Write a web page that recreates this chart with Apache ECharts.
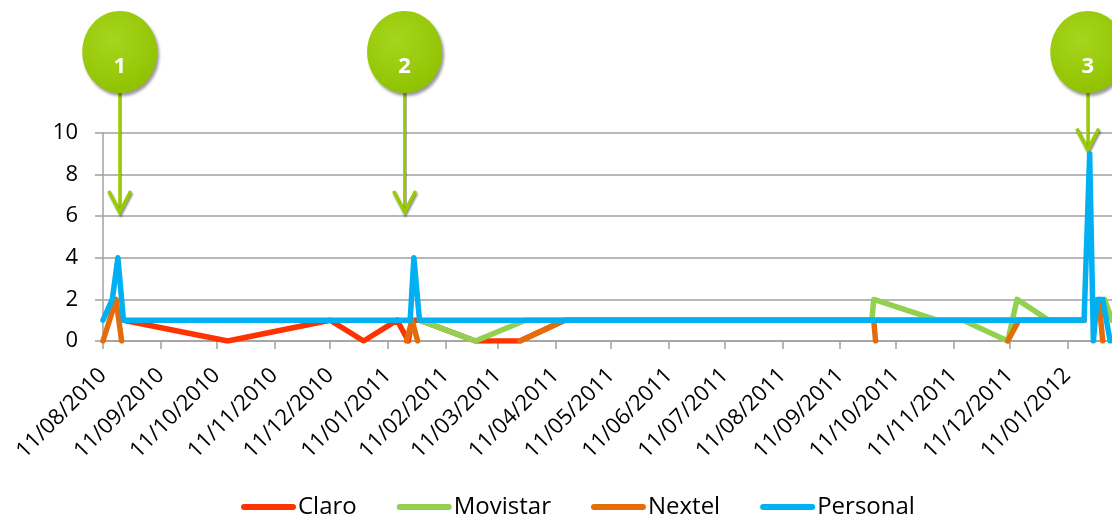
<!DOCTYPE html>
<html>
<head>
<meta charset="utf-8">
<script src="https://cdn.jsdelivr.net/npm/echarts@6/dist/echarts.min.js"></script>
<style>
  html, body { margin: 0; padding: 0; background: #ffffff; }
  #chart { width: 1112px; height: 526px; }
</style>
</head>
<body>
<div id="chart"></div>
<script>
// Axis labels along the date axis (dd/mm/yyyy), one per month
const xTickLabels = [
  '11/08/2010', '11/09/2010', '11/10/2010', '11/11/2010', '11/12/2010',
  '11/01/2011', '11/02/2011', '11/03/2011', '11/04/2011', '11/05/2011',
  '11/06/2011', '11/07/2011', '11/08/2011', '11/09/2011', '11/10/2011',
  '11/11/2011', '11/12/2011', '11/01/2012'
];
const xStart = '2010-08-11';
const xEnd = '2012-02-04';
const yTicks = [0, 2, 4, 6, 8, 10];

// Series readings: [date, value]; null breaks the line
const claro = [
  ['2010-08-22', 1], ['2010-10-17', 0], ['2010-12-11', 1], ['2010-12-29', 0],
  ['2011-01-16', 1], ['2011-01-22', 0], ['2011-01-24', 1], ['2011-01-28', 1],
  ['2011-02-27', 0], ['2011-03-23', 0], ['2011-04-16', 1], ['2012-01-20', 1]
];
const movistar = [
  ['2011-01-28', 1], ['2011-02-27', 0], ['2011-03-26', 1], ['2011-09-28', 1],
  ['2011-09-29', 2], ['2011-11-02', 1], ['2011-11-16', 1], ['2011-12-10', 0],
  ['2011-12-15', 2], ['2012-01-01', 1], ['2012-01-20', 1], ['2012-01-25', null],
  ['2012-01-31', 2], ['2012-02-04', 1]
];
const nextel = [
  ['2010-08-11', 0], ['2010-08-18', 2], ['2010-08-21', 0], ['2010-08-25', null],
  ['2011-01-21', 0], ['2011-01-24', 1], ['2011-01-27', 0], ['2011-02-10', null],
  ['2011-03-23', 0], ['2011-04-16', 1], ['2011-09-29', 1], ['2011-09-30', 0],
  ['2011-10-15', null], ['2011-12-10', 0], ['2011-12-16', 1], ['2012-01-20', 1],
  ['2012-01-24', null], ['2012-01-28', 2], ['2012-01-30', 0]
];
const personal = [
  ['2010-08-11', 1], ['2010-08-16', 2], ['2010-08-19', 4], ['2010-08-22', 1],
  ['2011-01-23', 1], ['2011-01-25', 4], ['2011-01-28', 1], ['2012-01-20', 1],
  ['2012-01-23', 9], ['2012-01-25', 0], ['2012-01-27', 2], ['2012-01-30', 2],
  ['2012-02-03', 0]
];

// Numbered callouts: label, date the arrow points at, value at the arrow tip
const calloutLabels = ['1', '2', '3'];
const calloutDates = ['2010-08-20', '2011-01-20', '2012-01-22'];
const calloutTips = [6.2, 6.2, 9.2];

const FONT = '"Open Sans", "Noto Sans", sans-serif';
const DAY = 86400000;
const ORIGIN = Date.UTC(2010, 7, 11);

function dayOf(iso) {
  const p = iso.split('-').map(Number);
  return (Date.UTC(p[0], p[1] - 1, p[2]) - ORIGIN) / DAY;
}
function dayOfLabel(lbl) {
  const p = lbl.split('/').map(Number);
  return (Date.UTC(p[2], p[1] - 1, p[0]) - ORIGIN) / DAY;
}
function toPoints(rows) {
  return rows.map(r => [dayOf(r[0]), r[1] === null ? '-' : r[1]]);
}

const tickDays = xTickLabels.map(dayOfLabel);
const labelByDay = {};
xTickLabels.forEach((l, i) => { labelByDay[tickDays[i]] = l; });

const seriesDefs = [
  { name: 'Claro', color: '#FF3300', rows: claro },
  { name: 'Movistar', color: '#92D050', rows: movistar },
  { name: 'Nextel', color: '#E46C0A', rows: nextel },
  { name: 'Personal', color: '#00B0F0', rows: personal }
];

const pill = 'path://M3,0 L52,0 A3,3 0 0 1 52,6 L3,6 A3,3 0 0 1 3,0 Z';

const chart = echarts.init(document.getElementById('chart'), null, { renderer: 'canvas' });

chart.setOption({
  backgroundColor: '#ffffff',
  animation: false,
  grid: { left: 103, right: 0, top: 133, bottom: 185, containLabel: false },
  legend: {
    left: 236,
    bottom: 2,
    itemWidth: 55,
    itemHeight: 6,
    itemGap: 40,
    icon: pill,
    textStyle: { fontFamily: FONT, fontSize: 24, color: '#000', padding: [0, 0, 0, -3] },
    data: seriesDefs.map(s => ({ name: s.name, icon: pill }))
  },
  xAxis: {
    type: 'value',
    min: dayOf(xStart),
    max: dayOf(xEnd),
    axisLine: { show: true, lineStyle: { color: '#a0a0a0', width: 1.5 } },
    axisTick: { show: true, customValues: tickDays, length: 8, lineStyle: { color: '#a0a0a0', width: 1.5 } },
    axisLabel: {
      customValues: tickDays,
      rotate: 45,
      margin: 31,
      fontFamily: FONT,
      fontSize: 22,
      color: '#000',
      formatter: v => labelByDay[v] || ''
    },
    splitLine: { show: false }
  },
  yAxis: {
    type: 'value',
    min: yTicks[0],
    max: yTicks[yTicks.length - 1],
    interval: 2,
    axisLine: { show: true, lineStyle: { color: '#a0a0a0', width: 1.5 } },
    axisTick: { show: true, length: 8, lineStyle: { color: '#a0a0a0', width: 1.5 } },
    axisLabel: { margin: 25, fontFamily: FONT, fontSize: 22, color: '#000' },
    splitLine: { show: true, lineStyle: { color: '#a0a0a0', width: 1.5 } }
  },
  series: seriesDefs.map(s => ({
    name: s.name,
    type: 'line',
    data: toPoints(s.rows),
    showSymbol: false,
    symbol: 'none',
    connectNulls: false,
    color: s.color,
    lineStyle: { color: s.color, width: 5.5, cap: 'round', join: 'round' }
  }))
});

// Callout bubbles with arrows, anchored to the axes
function drawCallouts() {
  const green = '#99CC00';
  const cy = 52, rx = 37.5, ry = 41;
  const elements = [];
  calloutLabels.forEach((lbl, i) => {
    const tip = chart.convertToPixel({ gridIndex: 0 }, [dayOf(calloutDates[i]), calloutTips[i]]);
    const x = tip[0], ty = tip[1];
    elements.push({
      type: 'group',
      children: [
        {
          type: 'line',
          shape: { x1: x, y1: cy + ry - 2, x2: x, y2: ty - 2 },
          style: { stroke: green, lineWidth: 3, shadowColor: 'rgba(0,0,0,0.3)', shadowOffsetX: 1, shadowOffsetY: 1, shadowBlur: 1 }
        },
        {
          type: 'polyline',
          shape: { points: [[x - 11, ty - 21], [x, ty], [x + 11, ty - 21]] },
          style: { stroke: green, lineWidth: 3.5, fill: null, lineJoin: 'miter', shadowColor: 'rgba(0,0,0,0.45)', shadowOffsetX: 1, shadowOffsetY: 2, shadowBlur: 2 }
        },
        {
          type: 'ellipse',
          shape: { cx: x, cy: cy, rx: rx, ry: ry },
          style: {
            fill: new echarts.graphic.RadialGradient(0.4, 0.35, 0.75, [
              { offset: 0, color: '#a6d61c' },
              { offset: 1, color: '#8fc100' }
            ]),
            shadowColor: 'rgba(0,0,0,0.4)', shadowOffsetX: 2, shadowOffsetY: 3, shadowBlur: 3
          }
        },
        {
          type: 'text',
          style: {
            x: x, y: cy + 15, text: lbl, fill: '#ffffff',
            font: 'bold 22px ' + FONT, align: 'center', verticalAlign: 'middle'
          }
        }
      ]
    });
  });
  chart.setOption({ graphic: elements });
}
drawCallouts();
</script>
</body>
</html>
